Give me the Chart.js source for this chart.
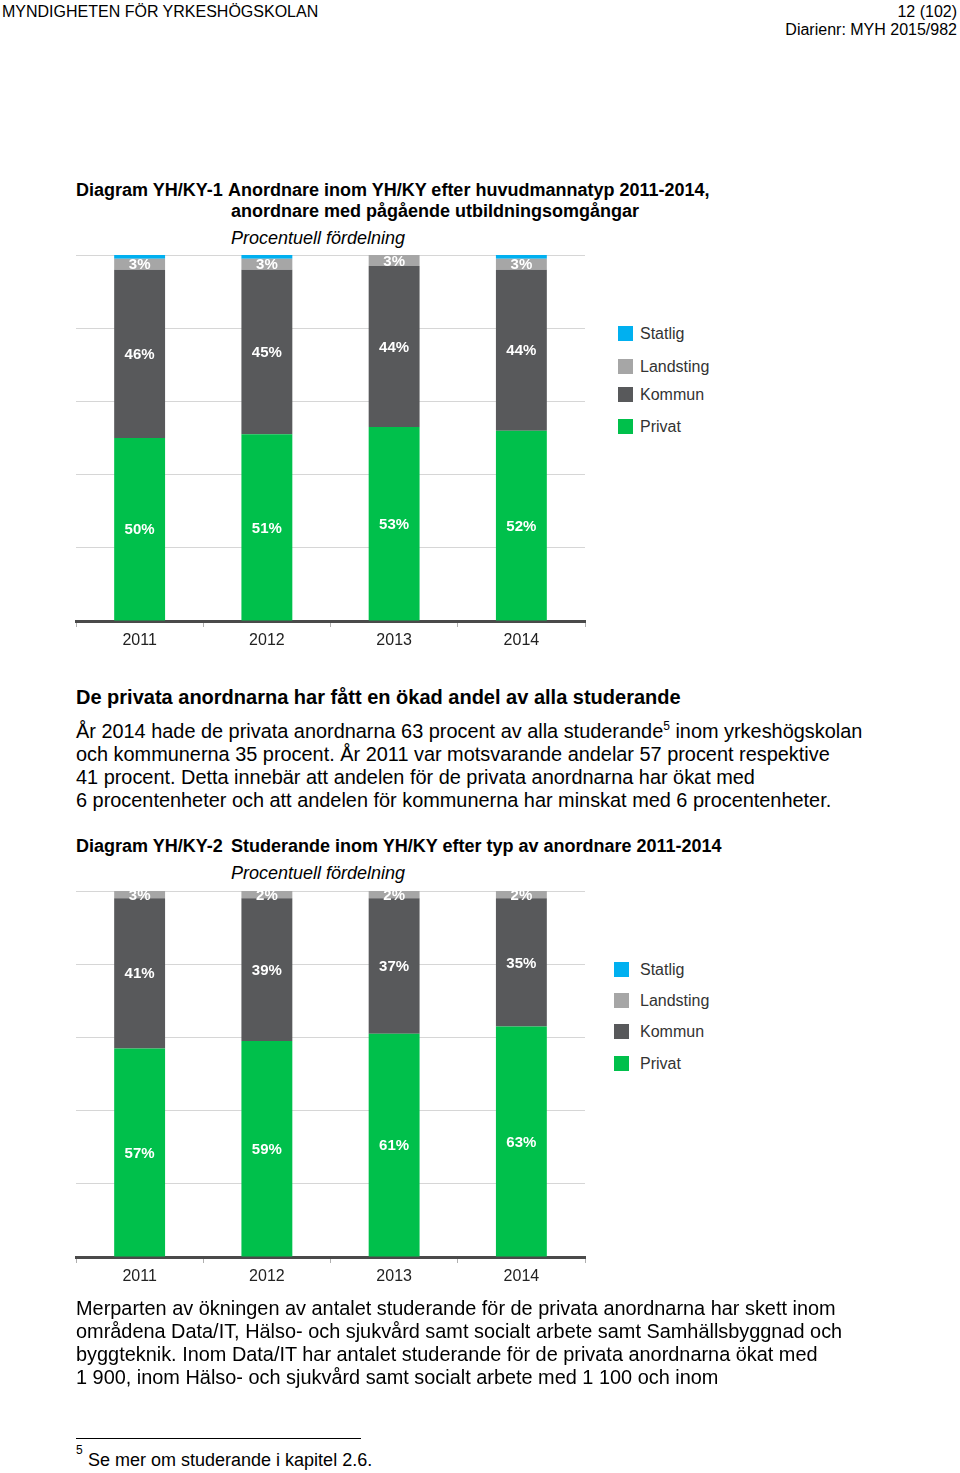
<!DOCTYPE html>
<html>
<head>
<meta charset="utf-8">
<script src="https://cdn.jsdelivr.net/npm/chart.js@4.4.1/dist/chart.umd.min.js"></script>
<style>
  html, body { margin:0; padding:0; background:#fff; }
  body { width:960px; height:1473px; position:relative; overflow:hidden; font-family:"Liberation Sans", Arial, sans-serif; color:#000; }
  .t { position:absolute; white-space:nowrap; line-height:20px; }
  .hdr { font-size:16px; }
  .ttl { font-size:18px; font-weight:bold; }
  .sub { font-size:18px; font-style:italic; }
  .h2 { font-size:20px; font-weight:bold; }
  .p { font-size:19.9px; }
  .p sup { font-size:12px; vertical-align:0; position:relative; top:-8px; }
  canvas { position:absolute; }
  .leg { position:absolute; font-size:16px; color:#333; line-height:20px; white-space:nowrap; }
  .leg i { position:absolute; width:15px; height:15px; left:0; top:2px; }
  .leg span { position:absolute; left:22px; top:0; }
</style>
</head>
<body>
<div class="t hdr" style="left:2px;top:2px;">MYNDIGHETEN FÖR YRKESHÖGSKOLAN</div>
<div class="t hdr" style="right:3px;top:2px;">12 (102)</div>
<div class="t hdr" style="right:3px;top:20px;">Diarienr: MYH 2015/982</div>

<div class="t ttl" style="left:76px;top:180px;">Diagram YH/KY-1</div>
<div class="t ttl" style="left:228px;top:180px;">Anordnare inom YH/KY efter huvudmannatyp 2011-2014,</div>
<div class="t ttl" style="left:231px;top:201px;">anordnare med pågående utbildningsomgångar</div>
<div class="t sub" style="left:231px;top:228px;">Procentuell fördelning</div>

<canvas id="c1" width="610" height="430" style="left:0;top:240px;"></canvas>
<div id="leg1"></div>

<div class="t h2" style="left:76px;top:687px;">De privata anordnarna har fått en ökad andel av alla studerande</div>
<div class="t p" style="left:76px;top:721px;">År 2014 hade de privata anordnarna 63 procent av alla studerande<sup>5</sup> inom yrkeshögskolan</div>
<div class="t p" style="left:76px;top:744px;">och kommunerna 35 procent. År 2011 var motsvarande andelar 57 procent respektive</div>
<div class="t p" style="left:76px;top:767px;">41 procent. Detta innebär att andelen för de privata anordnarna har ökat med</div>
<div class="t p" style="left:76px;top:790px;">6 procentenheter och att andelen för kommunerna har minskat med 6 procentenheter.</div>

<div class="t ttl" style="left:76px;top:836px;">Diagram YH/KY-2</div>
<div class="t ttl" style="left:231px;top:836px;">Studerande inom YH/KY efter typ av anordnare 2011-2014</div>
<div class="t sub" style="left:231px;top:863px;">Procentuell fördelning</div>

<canvas id="c2" width="610" height="430" style="left:0;top:876px;"></canvas>
<div id="leg2"></div>

<div class="t p" style="left:76px;top:1298px;">Merparten av ökningen av antalet studerande för de privata anordnarna har skett inom</div>
<div class="t p" style="left:76px;top:1321px;">områdena Data/IT, Hälso- och sjukvård samt socialt arbete samt Samhällsbyggnad och</div>
<div class="t p" style="left:76px;top:1344px;">byggteknik. Inom Data/IT har antalet studerande för de privata anordnarna ökat med</div>
<div class="t p" style="left:76px;top:1367px;">1 900, inom Hälso- och sjukvård samt socialt arbete med 1 100 och inom</div>

<div style="position:absolute;left:76px;top:1438px;width:285px;height:1px;background:#000;"></div>
<div class="t" style="left:76px;top:1440px;font-size:12px;">5</div>
<div class="t" style="left:88px;top:1450px;font-size:18px;">Se mer om studerande i kapitel 2.6.</div>

<script>
// ---- data ----
const years = ['2011', '2012', '2013', '2014'];
const seriesNames = ['Privat', 'Kommun', 'Landsting', 'Statlig'];
const seriesColors = ['#00c04b', '#58595b', '#a6a6a6', '#00b0f0'];

// Diagram YH/KY-1 (anordnare)
const c1Privat    = [50, 51, 53, 52];
const c1Kommun    = [46, 45, 44, 44];
const c1Landsting = [3, 3, 3, 3];
const c1Statlig   = [1, 1, 0, 1];

// Diagram YH/KY-2 (studerande)
const c2Privat    = [57, 59, 61, 63];
const c2Kommun    = [41, 39, 37, 35];
const c2Landsting = [3, 2, 2, 2];
const c2Statlig   = [0, 0, 0, 0];

const labelledSeries = ['Privat', 'Kommun', 'Landsting'];

const valueLabels = {
  id: 'valueLabels',
  afterDatasetsDraw(chart) {
    const ctx = chart.ctx;
    const top = chart.chartArea.top;
    ctx.save();
    ctx.font = 'bold 15px "Liberation Sans", Arial, sans-serif';
    ctx.fillStyle = '#ffffff';
    ctx.textAlign = 'center';
    ctx.textBaseline = 'middle';
    chart.data.datasets.forEach((ds, di) => {
      if (!labelledSeries.includes(ds.label)) return;
      const meta = chart.getDatasetMeta(di);
      meta.data.forEach((el, i) => {
        const v = ds.data[i];
        if (!v) return;
        const yTop = Math.max(el.y, top);
        ctx.fillText(v + '%', el.x, (yTop + el.base) / 2 + 1);
      });
    });
    ctx.restore();
  }
};

function makeChart(id, seriesData) {
  const datasets = seriesNames.map((name, k) => ({
    label: name,
    data: seriesData[k],
    backgroundColor: seriesColors[k],
    borderWidth: 0,
    categoryPercentage: 1.0,
    barPercentage: 0.4
  }));
  return new Chart(document.getElementById(id), {
    type: 'bar',
    data: { labels: years, datasets },
    plugins: [valueLabels],
    options: {
      responsive: false,
      animation: false,
      devicePixelRatio: 1,
      layout: { padding: { left: 76, right: 25, top: 15, bottom: 0 } },
      plugins: { legend: { display: false }, tooltip: { enabled: false } },
      scales: {
        x: {
          stacked: true,
          grid: { display: true, drawOnChartArea: false, drawTicks: true, tickLength: 6, color: '#b0b0b0', lineWidth: 1, offset: true },
          border: { display: true, color: '#4a4a4a', width: 3 },
          ticks: { color: '#222', font: { family: '"Liberation Sans", Arial, sans-serif', size: 16 }, padding: 4 },
          afterFit(scale) { scale.height = 49; }
        },
        y: {
          stacked: true,
          min: 0, max: 100,
          ticks: { display: false, stepSize: 20 },
          grid: { color: '#d6d6d6', lineWidth: 1, drawTicks: false },
          border: { display: false },
          afterFit(scale) { scale.width = 0; }
        }
      }
    }
  });
}

function makeLegend(id, left, squareLeft, centers) {
  const host = document.getElementById(id);
  const order = [3, 2, 1, 0];
  order.forEach((k, j) => {
    const d = document.createElement('div');
    d.className = 'leg';
    d.style.left = squareLeft + 'px';
    d.style.top = (centers[j] - 10) + 'px';
    d.innerHTML = '<i style="background:' + seriesColors[k] + '"></i><span style="left:' + (left - squareLeft) + 'px">' + seriesNames[k] + '</span>';
    host.appendChild(d);
  });
}

makeChart('c1', [c1Privat, c1Kommun, c1Landsting, c1Statlig]);
makeChart('c2', [c2Privat, c2Kommun, c2Landsting, c2Statlig]);
makeLegend('leg1', 640, 618, [334, 367, 395, 427]);
makeLegend('leg2', 640, 614, [970, 1001, 1032, 1064]);
</script>
</body>
</html>
